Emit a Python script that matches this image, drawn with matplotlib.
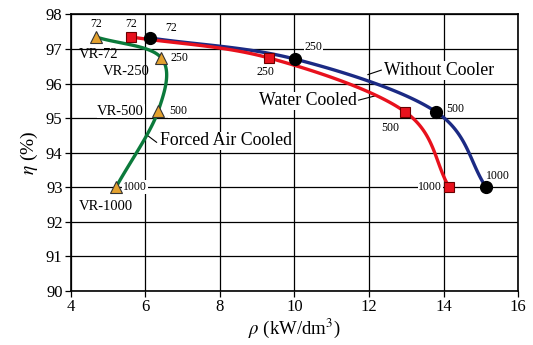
import numpy as np
import matplotlib
matplotlib.use('Agg')
import matplotlib.pyplot as plt

plt.rcParams['font.family'] = ['Liberation Serif', 'DejaVu Serif']
plt.rcParams['mathtext.fontset'] = 'stix'

# data (rho in kW/dm^3, eta in %)
freq = ['72', '250', '500', '1000']
rho_nocool = [6.12, 10.01, 13.80, 15.14]
eta_nocool = [97.32, 96.71, 95.18, 93.00]
rho_water = [5.61, 9.32, 12.97, 14.15]
eta_water = [97.35, 96.74, 95.18, 93.00]
rho_air = [4.67, 6.42, 6.34, 5.21]
eta_air = [97.35, 96.75, 95.20, 93.00]
vr_names = ['VR-72', 'VR-250', 'VR-500', 'VR-1000']

def smooth(xs, ys, n=40):
    # catmull-rom through the given points
    p = np.column_stack([xs, ys]).astype(float)
    p = np.vstack([2 * p[0] - p[1], p, 2 * p[-1] - p[-2]])
    out = []
    t = np.linspace(0, 1, n)[:, None]
    for i in range(1, len(p) - 2):
        p0, p1, p2, p3 = p[i - 1], p[i], p[i + 1], p[i + 2]
        seg = 0.5 * ((2 * p1) + (-p0 + p2) * t + (2 * p0 - 5 * p1 + 4 * p2 - p3) * t ** 2
                     + (-p0 + 3 * p1 - 3 * p2 + p3) * t ** 3)
        out.append(seg)
    out = np.vstack(out)
    return out[:, 0], out[:, 1]

fig = plt.figure(figsize=(5.33, 3.45), dpi=100)
ax = fig.add_axes([0.133, 0.157, 0.839, 0.801])

ax.set_xlim(4, 16)
ax.set_ylim(90, 98)
ax.set_xticks(range(4, 17, 2))
ax.set_yticks(range(90, 99))
ax.grid(True, color='black', linewidth=0.9)
ax.set_axisbelow(True)
for s in ax.spines.values():
    s.set_linewidth(1.2)
ax.tick_params(labelsize=12, length=4, width=0.9, direction='out', pad=2)

navy = '#1b2a84'
red = '#e8111d'
green = '#0b7a3b'

sx, sy = smooth(rho_nocool, eta_nocool)
ax.plot(sx, sy, color=navy, lw=2.4, zorder=3)
sx, sy = smooth(rho_water, eta_water)
ax.plot(sx, sy, color=red, lw=2.4, zorder=3)
sx, sy = smooth(rho_air, eta_air)
ax.plot(sx, sy, color=green, lw=2.4, zorder=3)

ax.plot(rho_nocool, eta_nocool, 'o', ms=8.5, color='black', zorder=4)
ax.plot(rho_water, eta_water, 's', ms=7, mfc=red, mec='#6a0000', mew=0.8, zorder=4)
ax.plot(rho_air, eta_air, '^', ms=9, mfc='#e3a12f', mec='#333333', mew=0.8, zorder=4)

wb = dict(facecolor='white', edgecolor='none', pad=0.5)
small = 8.5

# frequency labels
ax.annotate('72', (rho_air[0], eta_air[0]), xytext=(0, 5), textcoords='offset points', ha='center', va='bottom', fontsize=small)
ax.annotate('72', (rho_water[0], eta_water[0]), xytext=(0, 5), textcoords='offset points', ha='center', va='bottom', fontsize=small)
ax.annotate('72', (rho_nocool[0], eta_nocool[0]), xytext=(11, 3), textcoords='offset points', ha='left', va='bottom', fontsize=small)
ax.annotate('250', (rho_air[1], eta_air[1]), xytext=(7, 0), textcoords='offset points', ha='left', va='center', fontsize=small, bbox=wb)
ax.annotate('250', (rho_water[1], eta_water[1]), xytext=(-3, -6), textcoords='offset points', ha='center', va='top', fontsize=small)
ax.annotate('250', (rho_nocool[1], eta_nocool[1]), xytext=(7, 4), textcoords='offset points', ha='left', va='bottom', fontsize=small, bbox=wb)
ax.annotate('500', (rho_air[2], eta_air[2]), xytext=(8, 0), textcoords='offset points', ha='left', va='center', fontsize=small, bbox=wb)
ax.annotate('500', (rho_water[2], eta_water[2]), xytext=(-11, -7), textcoords='offset points', ha='center', va='top', fontsize=small)
ax.annotate('500', (rho_nocool[2], eta_nocool[2]), xytext=(7, 2), textcoords='offset points', ha='left', va='center', fontsize=small)
ax.annotate('1000', (rho_air[3], eta_air[3]), xytext=(5, 0), textcoords='offset points', ha='left', va='center', fontsize=small, bbox=wb)
ax.annotate('1000', (rho_water[3], eta_water[3]), xytext=(-5, 0), textcoords='offset points', ha='right', va='center', fontsize=small, bbox=wb)
ax.annotate('1000', (rho_nocool[3], eta_nocool[3]), xytext=(0, 4), textcoords='offset points', ha='left', va='bottom', fontsize=small)

# VR labels
vs = 10.5
ax.annotate(vr_names[0], (rho_air[0], eta_air[0]), xytext=(-12, -8), textcoords='offset points', ha='left', va='top', fontsize=vs)
ax.annotate(vr_names[1], (rho_air[1], eta_air[1]), xytext=(-8, -5), textcoords='offset points', ha='right', va='top', fontsize=vs)
ax.annotate(vr_names[2], (rho_air[2], eta_air[2]), xytext=(-10, 0), textcoords='offset points', ha='right', va='center', fontsize=vs, bbox=wb)
ax.annotate(vr_names[3], (rho_air[3], eta_air[3]), xytext=(-27, -9), textcoords='offset points', ha='left', va='top', fontsize=vs)

# curve names with leader lines
ls = 12.8
ax.text(12.4, 96.38, 'Without Cooler', ha='left', va='center', fontsize=ls, bbox=wb, zorder=2)
ax.plot([11.97, 12.33], [96.26, 96.39], color='black', lw=0.8, zorder=2.5)
ax.text(11.68, 95.5, 'Water Cooled', ha='right', va='center', fontsize=ls, bbox=wb, zorder=2)
ax.plot([11.72, 12.15], [95.52, 95.64], color='black', lw=0.8, zorder=2.5)
ax.text(6.39, 94.34, 'Forced Air Cooled', ha='left', va='center', fontsize=ls, bbox=wb, zorder=2)
ax.plot([6.04, 6.3], [94.51, 94.3], color='black', lw=0.8, zorder=2.5)

ax.set_xlabel(r'$\rho$ (kW/dm$^3$)', fontsize=13.5, labelpad=1)
ax.set_ylabel(r'$\eta$ (%)', fontsize=14, labelpad=4)

fig.savefig('out.png', dpi=100)
